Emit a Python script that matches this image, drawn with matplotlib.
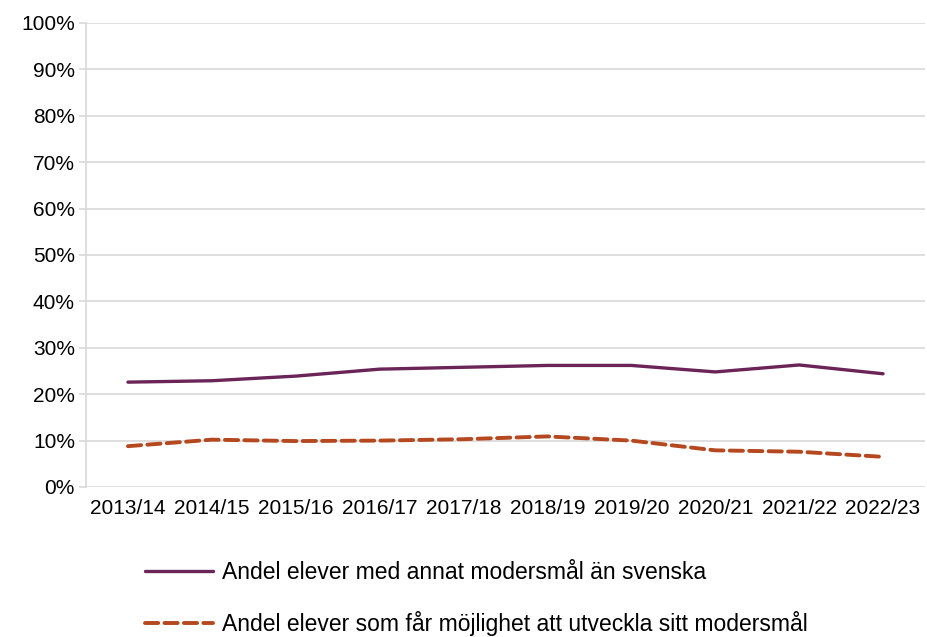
import matplotlib.pyplot as plt
import numpy as np
from matplotlib.ticker import PercentFormatter

plt.rcParams['font.family'] = ['Liberation Sans', 'DejaVu Sans']

# Values (percent)
years = ["2013/14", "2014/15", "2015/16", "2016/17", "2017/18",
         "2018/19", "2019/20", "2020/21", "2021/22", "2022/23"]
annat_modersmal = [22.6, 22.9, 23.9, 25.4, 25.8, 26.2, 26.2, 24.8, 26.3, 24.4]
utveckla_modersmal = [8.8, 10.2, 9.9, 10.0, 10.3, 10.9, 10.0, 7.9, 7.6, 6.5]

label_solid = "Andel elever med annat modersmål än svenska"
label_dashed = "Andel elever som får möjlighet att utveckla sitt modersmål"

purple = "#6a2457"
orange = "#b5481f"
grid_grey = "#d9d9d9"

fig = plt.figure(figsize=(9.27, 6.37), dpi=100)
ax = fig.add_axes([86 / 927, 1 - 487 / 637, 839 / 927, 464 / 637])

x = np.arange(len(years))
ax.plot(x, annat_modersmal, color=purple, lw=2.4, label=label_solid,
        solid_capstyle="round")
ax.plot(x, utveckla_modersmal, color=orange, lw=2.8, label=label_dashed,
        linestyle=(0, (3.4, 1.6)), dash_capstyle="round")

ax.set_xlim(-0.5, len(years) - 0.5)
ax.set_ylim(0, 100)
ax.set_yticks(np.arange(0, 101, 10))
ax.yaxis.set_major_formatter(PercentFormatter(decimals=0))
ax.set_xticks(x)
ax.set_xticklabels(years)

ax.grid(axis="y", color=grid_grey, lw=1.2)
ax.set_axisbelow(True)
for side in ["top", "right", "bottom"]:
    ax.spines[side].set_visible(False)
ax.spines["left"].set_color(grid_grey)
ax.spines["left"].set_linewidth(1.2)
ax.tick_params(axis="y", length=5, color=grid_grey, width=1.2, labelsize=15, pad=3)
ax.tick_params(axis="x", length=0, labelsize=15, pad=9)

# second legend row sits right at the bottom edge, as in the original
fig.legend(loc="upper left", bbox_to_anchor=(145 / 927, 1 - 561 / 637),
           frameon=False, fontsize=16.5, handlelength=2.95, handletextpad=0.4,
           labelspacing=1.2, borderpad=0, borderaxespad=0)

fig.savefig("out.png", dpi=100)
